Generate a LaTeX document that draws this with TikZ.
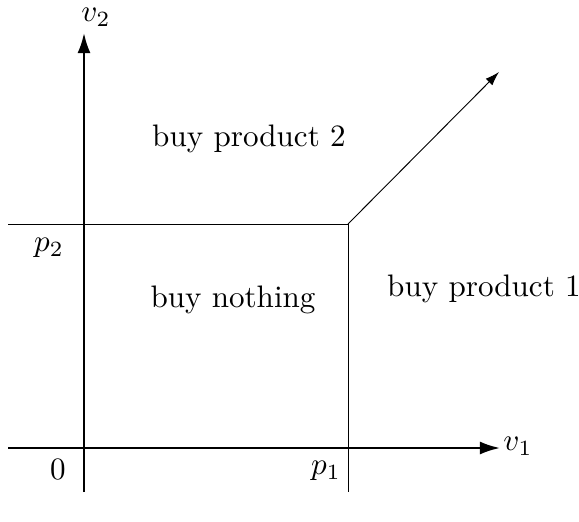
\documentclass[tikz,border=0pt]{standalone}
\usepackage{amsmath, amssymb}
\usetikzlibrary{arrows.meta, positioning, calc}

\begin{document}
\begin{tikzpicture}[x=0.0113cm, y=-0.0113cm,
        axis/.style={-{Latex[length=6.5pt,width=4.2pt]}, line width=0.7pt},
        border/.style={line width=0.3pt},
        region/.style={font=\normalsize}]
        \useasboundingbox (0,0) rectangle (579,522);

        % Axes
        \coordinate (xstart) at (8,448);
        \coordinate (xend) at (500,448);
        \coordinate (ystart) at (84,492);
        \coordinate (yend) at (84,33);
        \draw[axis] (xstart) -- (xend);
        \draw[axis] (ystart) -- (yend);
        \node (vone) at (518,446) {$v_1$};
        \node (vtwo) at (96,17) {$v_2$};
        \node (zero) at (58,469) {$0$};

        % Prices
        \coordinate (corner) at (348,224);
        \coordinate (pleft) at (8,224);
        \coordinate (pbottom) at (348,492);
        \coordinate (ray) at (499,72);
        \draw[border] (pleft) -- (corner) -- (pbottom);
        \draw[-{Latex[length=4.5pt,width=3pt]}, line width=0.3pt] (corner) -- (ray);
        \node (ptwo) at (49,248) {$p_2$};
        \node (pone) at (326,471) {$p_1$};

        % Regions
        \node[region] (buytwo) at (249,139) {buy product 2};
        \node[region] (buynone) at (233,300) {buy nothing};
        \node[region] (buyone) at (484,289) {buy product 1};

    \end{tikzpicture}
\end{document}
